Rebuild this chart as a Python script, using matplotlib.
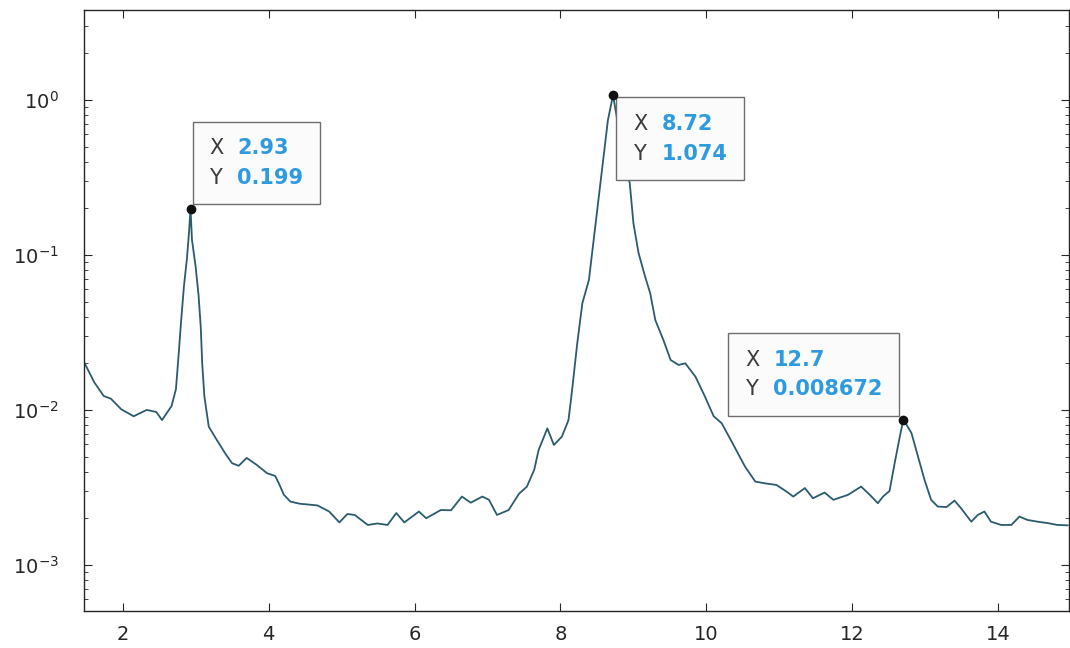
import matplotlib
matplotlib.use("Agg")
import matplotlib.pyplot as plt
from matplotlib.offsetbox import TextArea, HPacker, AnnotationBbox

# spectrum
x = [1.47, 1.61, 1.74, 1.84, 1.98, 2.15, 2.33, 2.46, 2.54, 2.67, 2.73, 2.77, 2.80, 2.84, 2.88, 2.91,
     2.93, 2.95, 3.00, 3.04, 3.07, 3.09, 3.12, 3.18, 3.29, 3.41, 3.50, 3.59, 3.70, 3.84, 3.98, 4.09,
     4.14, 4.21, 4.30, 4.43, 4.67, 4.83, 4.97, 5.08, 5.18, 5.36, 5.49, 5.63, 5.75, 5.86, 6.06, 6.16,
     6.36, 6.50, 6.65, 6.77, 6.93, 7.02, 7.13, 7.29, 7.43, 7.54, 7.64, 7.70, 7.82, 7.91, 8.02, 8.11,
     8.16, 8.23, 8.30, 8.39, 8.46, 8.52, 8.59, 8.65, 8.72, 8.80, 8.87, 8.95, 9.00, 9.07, 9.16, 9.23,
     9.30, 9.41, 9.51, 9.62, 9.71, 9.85, 9.98, 10.10, 10.21, 10.35, 10.53, 10.67, 10.80, 10.96, 11.10,
     11.19, 11.35, 11.46, 11.62, 11.74, 11.94, 12.12, 12.24, 12.35, 12.42, 12.51, 12.58, 12.65, 12.70,
     12.81, 12.90, 12.99, 13.08, 13.17, 13.29, 13.40, 13.49, 13.63, 13.72, 13.81, 13.90, 14.04, 14.18,
     14.29, 14.40, 14.54, 14.68, 14.81, 14.95]
y = [0.0204, 0.0151, 0.0123, 0.0118, 0.0101, 0.0091, 0.0100, 0.0097, 0.0086, 0.0106, 0.0136, 0.0237,
     0.037, 0.063, 0.094, 0.141, 0.199, 0.125, 0.084, 0.055, 0.0344, 0.020, 0.0122, 0.0078, 0.0064,
     0.0052, 0.00453, 0.00436, 0.0049, 0.00441, 0.0039, 0.00375, 0.00336, 0.00283, 0.00256, 0.00248,
     0.00242, 0.00221, 0.00188, 0.00213, 0.00210, 0.00181, 0.00185, 0.00181, 0.00216, 0.00188, 0.00221,
     0.0020, 0.00226, 0.00225, 0.00276, 0.00252, 0.00276, 0.00263, 0.0021, 0.00226, 0.00287, 0.0032,
     0.0041, 0.0055, 0.0076, 0.00594, 0.00673, 0.0086, 0.0135, 0.0269, 0.0488, 0.069, 0.131, 0.226,
     0.43, 0.74, 1.074, 0.65, 0.42, 0.29, 0.16, 0.103, 0.0725, 0.0566, 0.038, 0.0283, 0.021, 0.0195,
     0.020, 0.0164, 0.0122, 0.0091, 0.0082, 0.0062, 0.0043, 0.00345, 0.00336, 0.00328, 0.00297,
     0.00276, 0.00313, 0.00269, 0.00293, 0.00263, 0.00283, 0.0032, 0.00283, 0.0025, 0.00276, 0.0030,
     0.00453, 0.0067, 0.008672, 0.0071, 0.0050, 0.00353, 0.00263, 0.00238, 0.00236, 0.0026, 0.00232,
     0.0019, 0.0021, 0.00221, 0.0019, 0.00181, 0.00181, 0.00205, 0.00195, 0.0019, 0.00186, 0.00181,
     0.0018]

# data tips: x, y, label text
tip_x = [2.93, 8.72, 12.7]
tip_y = [0.199, 1.074, 0.008672]
tip_txt = [("2.93", "0.199"), ("8.72", "1.074"), ("12.7", "0.008672")]

plt.rcParams['font.family'] = ['DejaVu Sans']
fig = plt.figure(figsize=(10.7, 6.48), dpi=100)
ax = fig.add_axes([0.0785, 0.0571, 0.9206, 0.9275])

ax.plot(x, y, color='#2b5b6c', lw=1.3)
ax.set_yscale('log')
ax.set_xlim(1.47, 14.97)
ax.set_ylim(5.04e-4, 3.81)
ax.set_xticks([2, 4, 6, 8, 10, 12, 14])

ax.tick_params(axis='both', which='both', direction='in', top=True, right=True, colors='#262626')
ax.tick_params(axis='both', which='major', length=6)
ax.tick_params(axis='y', which='minor', length=3)
ax.tick_params(axis='y', which='major', pad=18, labelsize=14)
ax.tick_params(axis='x', which='major', pad=10, labelsize=14)
for s in ax.spines.values():
    s.set_color('#262626')
    s.set_linewidth(1.0)

# box corner placement (alignment, offset in points incl. 12pt frame pad)
places = [((0, 0), (13.5, 15)), ((0, 1), (14.5, -13.5)), ((1, 0), (-15, 14.5))]
for i in range(3):
    lab = TextArea("X\nY", textprops=dict(color='#3c3c3c', fontsize=15, linespacing=1.6))
    val = TextArea(tip_txt[i][0] + "\n" + tip_txt[i][1],
                   textprops=dict(color='#2e9be0', fontsize=15, fontweight='bold', linespacing=1.6))
    pack = HPacker(children=[lab, val], sep=10, pad=0, align='top')
    ab = AnnotationBbox(pack, (tip_x[i], tip_y[i]), xybox=places[i][1], xycoords='data',
                        boxcoords='offset points', box_alignment=places[i][0], pad=1.2,
                        bboxprops=dict(fc='#fbfbfb', ec='#6e6e6e', lw=1.0),
                        frameon=True, zorder=6)
    ax.add_artist(ab)

ax.plot(tip_x, tip_y, 'o', color='#111111', ms=6, zorder=7)

plt.savefig('out.png', dpi=100)
